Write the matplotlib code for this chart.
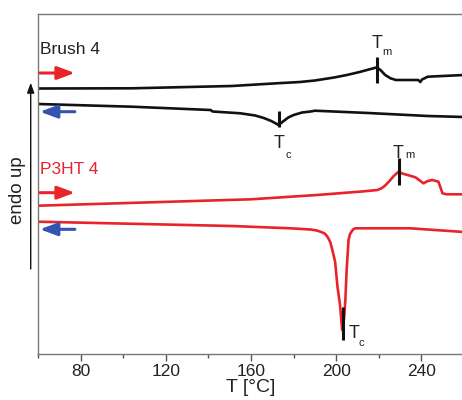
import numpy as np
import matplotlib
matplotlib.use('Agg')
import matplotlib.pyplot as plt

plt.rcParams['font.family'] = ['Liberation Sans', 'DejaVu Sans']

# DSC traces, temperature in °C, heat flow in arbitrary units (endo up, offset)
brush_heat_T = [60, 104, 151, 172, 183, 190, 199, 205, 211, 215, 219.2, 221, 223, 225.5, 228, 238.5, 239.5, 240.3, 243, 260]
brush_heat_y = [26.45, 26.47, 26.7, 26.97, 27.1, 27.25, 27.55, 27.8, 28.1, 28.33, 28.57, 28.25, 27.8, 27.47, 27.3, 27.3, 27.1, 27.35, 27.63, 27.8]

brush_cool_T = [60, 104, 141, 142, 155, 162, 166, 169.5, 173, 175, 177.5, 180, 184, 188, 190, 215, 243, 260]
brush_cool_y = [24.9, 24.63, 24.3, 24.15, 23.97, 23.75, 23.5, 23.2, 22.8, 23.15, 23.55, 23.8, 24.05, 24.15, 24.23, 24.0, 23.7, 23.6]

p3ht_heat_T = [60, 160, 191, 212, 219.4, 221.5, 223, 225, 227, 229.3, 231, 233.5, 237.2, 241, 243, 245.2, 248, 249.9, 251.7, 260]
p3ht_heat_y = [14.73, 15.37, 15.8, 16.15, 16.3, 16.5, 16.75, 17.2, 17.7, 18.13, 17.95, 17.8, 17.57, 16.97, 17.2, 17.3, 17.13, 15.97, 15.87, 15.87]

p3ht_cool_T = [60, 151, 178.5, 188, 190.8, 192.6, 194.6, 195.9, 197.2, 198.2, 199.5, 200.6, 201.8, 202.8,
               203.7, 204.3, 204.9, 205.8, 206.5, 207.9, 209, 234.8, 260]
p3ht_cool_y = [13.13, 12.7, 12.47, 12.35, 12.25, 12.13, 11.95, 11.63, 11.1, 10.3, 9.1, 6.63, 4.8, 2.3,
               3.5, 5.3, 8.3, 11.3, 11.9, 12.35, 12.47, 12.47, 12.1]

# transition temperatures: (T, y bottom, y top)
marks = [(219.2, 27.03, 29.63), (173.0, 22.63, 24.23), (229.3, 16.8, 19.5), (203.3, 1.3, 4.6)]

xticks = [80, 120, 160, 200, 240]
minor_ticks = [60, 100, 140, 180, 220, 260]

red = '#e8232a'
blue = '#3553b0'
black = '#111111'

fig = plt.figure(figsize=(4.62, 4.0), dpi=100)
ax = fig.add_axes([38 / 462, 46 / 400, 426 / 462, 340 / 400])

ax.plot(brush_heat_T, brush_heat_y, color=black, lw=1.9, solid_joinstyle='round')
ax.plot(brush_cool_T, brush_cool_y, color=black, lw=1.9, solid_joinstyle='round')
ax.plot(p3ht_heat_T, p3ht_heat_y, color=red, lw=1.9, solid_joinstyle='round')
ax.plot(p3ht_cool_T, p3ht_cool_y, color=red, lw=1.9, solid_joinstyle='round')

for t, y0, y1 in marks:
    ax.vlines(t, y0, y1, color=black, lw=2.2, zorder=5)

# T_m / T_c labels
lab = [('T', 219.0, 31.0, 'm', 223.6, 30.1),
       ('T', 173.4, 20.9, 'c', 177.6, 19.75),
       ('T', 229.1, 19.95, 'm', 234.4, 19.75),
       ('T', 208.3, 2.0, 'c', 211.9, 1.05)]
for s, x, y, sub, xs, ys in lab:
    ax.text(x, y, s, fontsize=13, ha='center', va='center', color='#222222')
    ax.text(xs, ys, sub, fontsize=8, ha='center', va='center', color='#222222')

ax.text(61, 30.35, 'Brush 4', fontsize=12.5, ha='left', va='center', color='#222222')
ax.text(61, 18.4, 'P3HT 4', fontsize=12.5, ha='left', va='center', color=red)

# heating / cooling direction arrows
arrow_style = '-|>,head_length=0.7,head_width=0.26'
for y, c, forward in [(28.0, red, True), (24.13, blue, False), (16.03, red, True), (12.37, blue, False)]:
    a, b = (60.9, 77.3) if forward else (77.3, 60.9)
    ax.annotate('', xy=(b, y), xytext=(a, y),
                arrowprops=dict(arrowstyle=arrow_style, color=c, lw=2.2,
                                mutation_scale=15, shrinkA=0, shrinkB=0))

ax.set_xlim(60, 260)
ax.set_ylim(-0.1, 33.9)
ax.set_xticks(xticks)
ax.set_xticks(minor_ticks, minor=True)
ax.set_yticks([])
ax.tick_params(axis='x', which='major', length=5, width=1, color='#555555',
               labelsize=12.5, labelcolor='#222222', pad=2)
ax.tick_params(axis='x', which='minor', length=3, width=1, color='#555555')
ax.set_xlabel('T [°C]', fontsize=14, color='#222222', labelpad=0)

for side in ['left', 'bottom', 'top']:
    ax.spines[side].set_color('#777777')
    ax.spines[side].set_linewidth(1.0)
ax.spines['right'].set_visible(False)

# "endo up" axis arrow
fig.text(18 / 462, 1 - 190 / 400, 'endo up', rotation=90, fontsize=13.5,
         ha='center', va='center', color='#222222')
ax.annotate('', xy=(30.7 / 462, 1 - 82.7 / 400), xytext=(30.7 / 462, 1 - 269 / 400),
            xycoords='figure fraction', textcoords='figure fraction',
            arrowprops=dict(arrowstyle='-|>,head_length=0.5,head_width=0.18',
                            color=black, lw=1.0, mutation_scale=12,
                            shrinkA=0, shrinkB=0),
            annotation_clip=False)

fig.savefig('out.png', dpi=100)
